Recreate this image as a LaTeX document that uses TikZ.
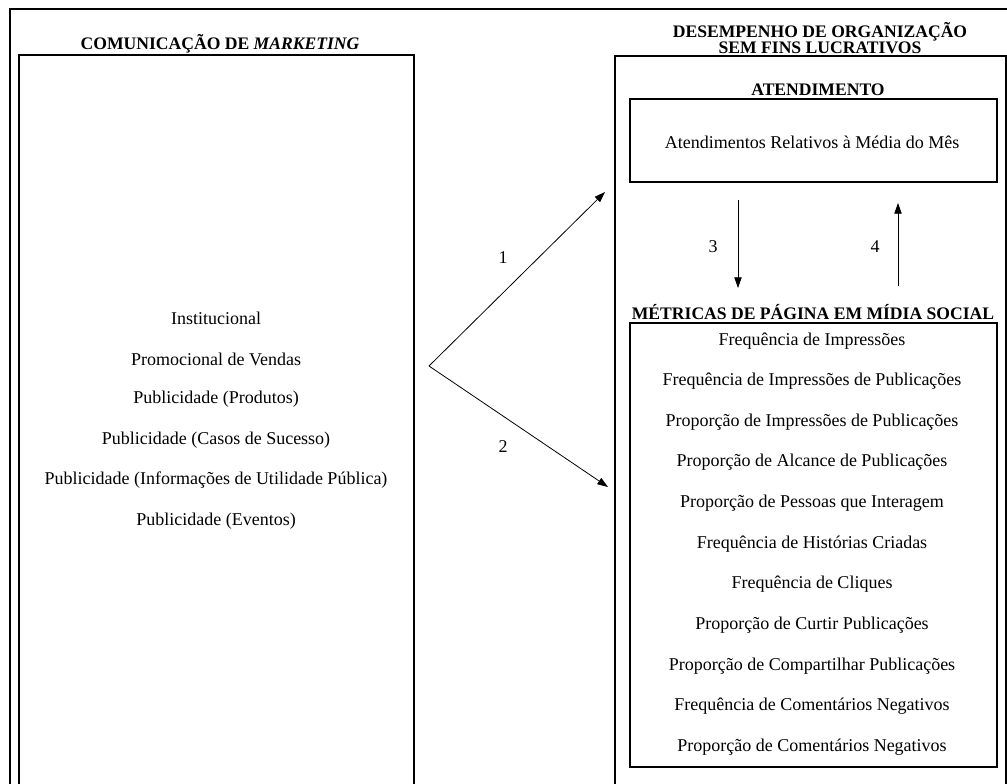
\documentclass[tikz,border=0pt]{standalone}
\usepackage{fontspec}
\setmainfont{Liberation Serif}
\usetikzlibrary{arrows.meta}

\tikzset{every picture/.style={line width=0.75pt}}
\tikzset{
  itemtext/.style={font=\fontsize{13.5}{16}\selectfont, inner sep=0pt},
  headtext/.style={font=\fontsize{13.2}{15}\selectfont\bfseries, inner sep=0pt},
  boxline/.style={line width=0.9pt},
  flowarrow/.style={-{Triangle[length=8pt,width=5.5pt]}, line width=0.6pt},
}

\begin{document}
\begin{tikzpicture}[x=0.75pt,y=0.75pt,yscale=-1,xscale=1]
	\useasboundingbox (0,0) rectangle (1007,783);
	\clip (0,0) rectangle (1007,783);

	%Outer frame (open at right and bottom)
	\draw [line width=2.2pt]  (10,800) -- (10,9) -- (1030,9) ;

	%Shape: Rectangle [id:marketing box]
	\draw [boxline]  (19,55) rectangle (414,800) ;
	%Shape: Rectangle [id:desempenho box]
	\draw [boxline]  (615,56) rectangle (1006,800) ;
	%Shape: Rectangle [id:atendimento box]
	\draw [boxline]  (630,99) rectangle (997,182) ;
	%Shape: Rectangle [id:metricas box]
	\draw [boxline]  (630,323) rectangle (997,767) ;

	% Headings
	\draw (220,44) node [headtext] (mktTitle) {COMUNICAÇÃO DE \textit{MARKETING}};
	\draw (820,37.5) node [headtext, anchor=base] (orgTitle) {DESEMPENHO DE ORGANIZAÇÃO};
	\draw (820,53.5) node [headtext, anchor=base] (orgTitleB) {SEM FINS LUCRATIVOS};
	\draw (818,90) node [headtext] (atdTitle) {ATENDIMENTO};
	\draw (813,312) node [headtext] (metTitle) {MÉTRICAS DE PÁGINA EM MÍDIA SOCIAL};

	% Text Node
	\draw (812,142) node [itemtext] (atd1) {Atendimentos Relativos à Média do Mês};

	% Left items
	\draw (216,318) node [itemtext] (mkt1) {Institucional};
	\draw (216,359) node [itemtext] (mkt2) {Promocional de Vendas};
	\draw (216,399) node [itemtext] (mkt3) {Publicidade (Produtos)};
	\draw (216,440) node [itemtext] (mkt4) {Publicidade (Casos de Sucesso)};
	\draw (216,480) node [itemtext] (mkt5) {Publicidade (Informações de Utilidade Pública)};
	\draw (216,521) node [itemtext] (mkt6) {Publicidade (Eventos)};

	% Right items
	\draw (812,341) node [itemtext] (met1) {Frequência de Impressões};
	\draw (812,381) node [itemtext] (met2) {Frequência de Impressões de Publicações};
	\draw (812,422) node [itemtext] (met3) {Proporção de Impressões de Publicações};
	\draw (812,462) node [itemtext] (met4) {Proporção de Alcance de Publicações};
	\draw (812,503) node [itemtext] (met5) {Proporção de Pessoas que Interagem};
	\draw (812,544) node [itemtext] (met6) {Frequência de Histórias Criadas};
	\draw (812,584) node [itemtext] (met7) {Frequência de Cliques};
	\draw (812,625) node [itemtext] (met8) {Proporção de Curtir Publicações};
	\draw (812,666) node [itemtext] (met9) {Proporção de Compartilhar Publicações};
	\draw (812,706) node [itemtext] (met10) {Frequência de Comentários Negativos};
	\draw (812,747) node [itemtext] (met11) {Proporção de Comentários Negativos};

	% Arrow ends
	\coordinate (fork) at (429,366);
	\coordinate (toAtd) at (605,192);
	\coordinate (toMet) at (608,487);
	\coordinate (downTop) at (738,200);
	\coordinate (downEnd) at (738,288);
	\coordinate (upBottom) at (898,286);
	\coordinate (upEnd) at (898,203);

	%Straight Lines
	\draw [flowarrow]  (fork) -- (toAtd) ;
	\draw [flowarrow]  (fork) -- (toMet) ;
	\draw [flowarrow]  (downTop) -- (downEnd) ;
	\draw [flowarrow]  (upBottom) -- (upEnd) ;

	% Arrow labels
	\draw (503,258) node [itemtext] (lbl1) {1};
	\draw (503,447) node [itemtext] (lbl2) {2};
	\draw (713,247) node [itemtext] (lbl3) {3};
	\draw (875,247) node [itemtext] (lbl4) {4};

\end{tikzpicture}
\end{document}
